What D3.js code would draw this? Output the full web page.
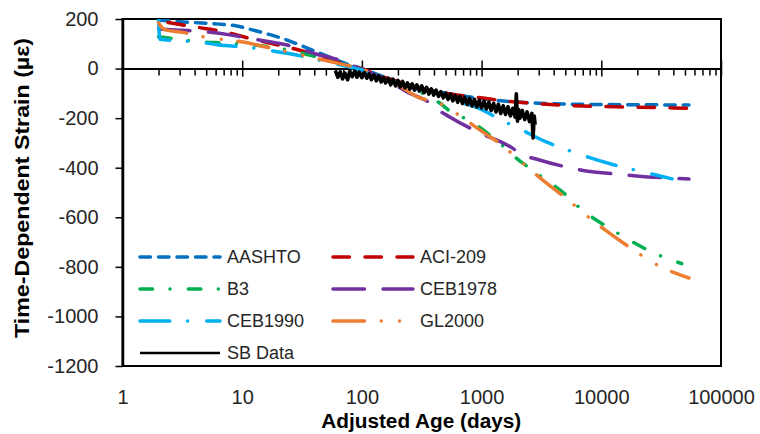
<!DOCTYPE html>
<html><head><meta charset="utf-8">
<script src="https://cdn.jsdelivr.net/npm/d3@7"></script>
<style>body{margin:0;background:#fff}svg{display:block}</style>
</head><body><svg id="c" width="760" height="434"></svg>
<script>
// ---------- data ----------
const seriesNames = ["AASHTO","ACI-209","B3","CEB1978","CEB1990","GL2000","SB Data"];
const aashto = [[2,196],[3.2,188],[4.6,184],[7,178],[9,172],[12.4,155],[23.7,115],[42,67],[79,15],[100,0],[150,-32],[250,-66],[400,-90],[700,-110],[1000,-122],[2000,-135],[3000,-140],[5000,-143],[10000,-145],[20000,-146],[54000,-147]];
const aci209 = [[2.4,186],[3.2,176],[5,161],[6.5,152],[11.7,121],[16.2,105],[28.7,77],[50,40],[80,12],[100,-1],[150,-33],[250,-66],[400,-90],[700,-110],[840,-114],[1620,-131],[2870,-141],[5000,-148],[10000,-153],[20000,-156],[54000,-160]];
const b3 = [[2,128],[3,118],[4.5,108],[7.5,103],[19.6,83],[42,47],[70,16],[100,-3],[150,-35],[250,-76],[447,-139],[573,-180],[750,-204],[1400,-299],[1995,-365],[2660,-410],[5400,-522],[6200,-550],[13300,-660],[30000,-752],[47000,-787]];
const ceb1978 = [[2,160],[3,155],[5.1,148],[7.9,136],[11,123],[23.7,95],[42,58],[63,36],[80,16],[100,-6],[150,-38],[240,-95],[369,-139],[422,-163],[541,-195],[927,-256],[1811,-321],[2073,-341],[3043,-369],[5110,-397],[7500,-413],[12350,-424],[19600,-433],[54000,-446]];
const ceb1990 = [[2,198],[2.05,118],[3,112],[4.6,106],[6.2,96],[11.7,85],[16,75],[29,54],[50,28],[84,3],[100,-6],[150,-36],[250,-73],[450,-106],[680,-137],[910,-157],[1468,-208],[2070,-243],[3460,-296],[6560,-345],[11660,-383],[21900,-416],[39000,-445]];
const gl2000 = [[2,184],[2.25,157],[3.2,146],[4.5,130],[10.5,106],[16.2,86],[57,26],[100,-3],[150,-35],[200,-66],[287,-113],[473,-146],[620,-182],[826,-224],[1122,-269],[1400,-300],[2000,-364],[3224,-449],[4732,-512],[10190,-643],[17100,-720],[30000,-795],[54000,-845]];
const sbData = [[60,-8],[63,-35],[66,-13],[69,-42],[72,-18],[76,-45],[79,-12],[83,-33],[87,-10],[91,-35],[95,-14],[100,-37],[105,-16],[110,-39],[115,-21],[120,-45],[126,-25],[132,-49],[138,-29],[145,-54],[151,-35],[158,-58],[166,-39],[174,-66],[182,-43],[191,-70],[200,-48],[209,-74],[219,-52],[229,-78],[240,-58],[251,-83],[263,-62],[275,-87],[288,-66],[302,-91],[316,-70],[331,-97],[347,-76],[363,-103],[380,-82],[398,-107],[417,-87],[437,-112],[457,-93],[479,-118],[501,-99],[525,-124],[550,-103],[575,-130],[603,-108],[631,-136],[661,-112],[692,-141],[724,-116],[759,-145],[794,-120],[832,-151],[871,-124],[912,-155],[955,-128],[1000,-159],[1047,-132],[1096,-163],[1148,-136],[1202,-169],[1259,-140],[1318,-175],[1380,-144],[1445,-181],[1514,-150],[1585,-185],[1660,-154],[1738,-191],[1820,-160],[1905,-196],[1950,-102],[1995,-212],[2040,-165],[2089,-200],[2188,-169],[2291,-206],[2399,-175],[2512,-214],[2630,-181],[2690,-280],[2754,-192],[2800,-226]];
const xTickValues = [1,10,100,1000,10000,100000];
const xTickLabels = ["1","10","100","1000","10000","100000"];
const yTickValues = [200,0,-200,-400,-600,-800,-1000,-1200];
const xTitle = "Adjusted Age (days)";
const yTitle = "Time-Dependent Strain (µε)";

// ---------- styles ----------
const seriesData = [aashto, aci209, b3, ceb1978, ceb1990, gl2000, sbData];
const seriesColors = ["#0070C0","#C00000","#00B050","#7030A0","#00B0F0","#ED7D31","#000000"];
const seriesDash = ["10.5,8","16.5,15.5","12.5,17.5,0.01,18.3","31.5,18.5","29.8,17.8,0.01,19.1","31.5,16.75,0.01,18.3,0.01,16.75",null];
const seriesWidth = [3.5,3.5,3.5,3.5,3.5,3.5,3.6];
const legendWidth = [3.5,3.5,3.5,3.5,3.5,3.5,2.5];
const FONT = "'Liberation Sans', Arial, sans-serif";
const TXT = "#262626";

const svg = d3.select("#c");
const L = 122.5, R = 721, T = 19, B = 366;
const x = d3.scaleLog().domain([1,100000]).range([L,R]);
const y = d3.scaleLinear().domain([-1200,200]).range([B,T]);

svg.append("defs").append("clipPath").attr("id","clip")
  .append("rect").attr("x",L).attr("y",T).attr("width",R-L).attr("height",B-T);

// frame (top & right & bottom)
svg.append("rect").attr("x",L).attr("y",T).attr("width",R-L).attr("height",B-T)
  .attr("fill","none").attr("stroke","#000").attr("stroke-width",2);

// y axis
const yAxis = svg.append("g").attr("transform",`translate(${L},0)`)
  .call(d3.axisLeft(y).tickValues(yTickValues).tickSize(7).tickSizeOuter(0).tickPadding(17).tickFormat(d=>String(d)));
yAxis.select(".domain").attr("stroke-width",2.5);
yAxis.selectAll(".tick line").attr("stroke-width",1.5);
yAxis.selectAll("text").attr("font-family",FONT).attr("font-size",20).attr("fill",TXT);

// x axis at y=0 : minor ticks (below), major ticks crossing
const minorVals = x.ticks().filter(v => !xTickValues.includes(v));
const xMinor = svg.append("g").attr("transform",`translate(0,${y(0)})`)
  .call(d3.axisBottom(x).tickValues(minorVals).tickSize(7).tickSizeOuter(0).tickFormat(""));
xMinor.select(".domain").attr("stroke-width",2);
xMinor.selectAll(".tick line").attr("stroke-width",1.5);
const xMajDown = svg.append("g").attr("transform",`translate(0,${y(0)})`)
  .call(d3.axisBottom(x).tickValues(xTickValues).tickSize(8).tickSizeOuter(0).tickFormat(""));
xMajDown.select(".domain").remove();
xMajDown.selectAll(".tick line").attr("stroke-width",1.5);
const xMajUp = svg.append("g").attr("transform",`translate(0,${y(0)})`)
  .call(d3.axisTop(x).tickValues(xTickValues).tickSize(8).tickSizeOuter(0).tickFormat(""));
xMajUp.select(".domain").remove();
xMajUp.selectAll(".tick line").attr("stroke-width",1.5);

// x tick labels at bottom
const xLab = svg.append("g").attr("transform",`translate(0,${B})`)
  .call(d3.axisBottom(x).tickValues(xTickValues).tickSize(0).tickPadding(24)
    .tickFormat((d,i)=>xTickLabels[i]));
xLab.select(".domain").remove();
xLab.selectAll("text").attr("font-family",FONT).attr("font-size",20).attr("fill",TXT);

// series
const line = d3.line().x(d=>x(d[0])).y(d=>y(d[1]));
const lineSmooth = d3.line().x(d=>x(d[0])).y(d=>y(d[1])).curve(d3.curveMonotoneX);
const gS = svg.append("g").attr("clip-path","url(#clip)");
seriesData.forEach((data,i)=>{
  gS.append("path").datum(data)
    .attr("d", i===6 ? line : lineSmooth)
    .attr("fill","none").attr("stroke",seriesColors[i])
    .attr("stroke-width",seriesWidth[i])
    .attr("stroke-linecap", i===6 ? "butt" : "round")
    .attr("stroke-linejoin","round")
    .attr("stroke-dasharray",seriesDash[i]);
});

// legend
const legX = [140,333], legY = [257,289,321,353], legLen = 80;
seriesNames.forEach((name,i)=>{
  const cx = legX[i%2], cy = legY[Math.floor(i/2)];
  svg.append("line").attr("x1",cx).attr("x2",cx+legLen).attr("y1",cy).attr("y2",cy)
    .attr("stroke",seriesColors[i]).attr("stroke-width",legendWidth[i])
    .attr("stroke-linecap", i===6 ? "butt" : "round")
    .attr("stroke-dasharray",seriesDash[i]);
  svg.append("text").attr("x",cx+legLen+7).attr("y",cy).attr("dy","0.35em")
    .attr("font-family",FONT).attr("font-size",18).attr("fill",TXT).text(name);
});

// titles
svg.append("text").attr("x",(L+R)/2 - 0.5).attr("y",428).attr("text-anchor","middle")
  .attr("font-family",FONT).attr("font-size",20).attr("font-weight","bold").attr("fill","#000")
  .attr("textLength",200).attr("lengthAdjust","spacingAndGlyphs").text(xTitle);
svg.append("text").attr("transform","translate(29,188) rotate(-90)").attr("text-anchor","middle")
  .attr("font-family",FONT).attr("font-size",21).attr("font-weight","bold").attr("fill","#000")
  .attr("textLength",300).attr("lengthAdjust","spacingAndGlyphs").text(yTitle);
</script></body></html>
